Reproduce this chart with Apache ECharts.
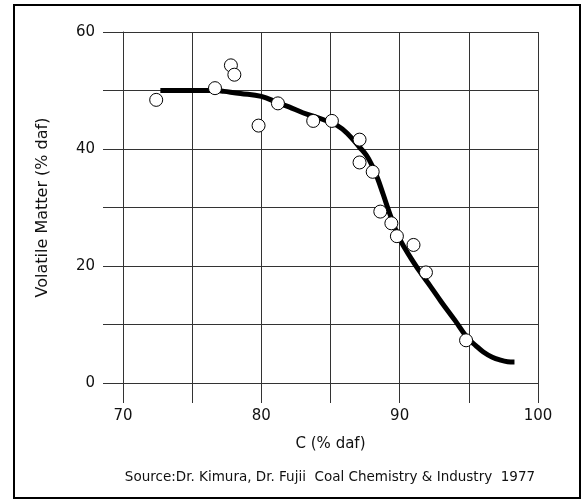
<!DOCTYPE html>
<html>
<head>
<meta charset="utf-8">
<script src="https://cdn.jsdelivr.net/npm/echarts@6/dist/echarts.min.js"></script>
<style>
  html, body { margin: 0; padding: 0; background: #fff; }
  #chart { width: 586px; height: 502px; }
</style>
</head>
<body>
<div id="chart"></div>
<script>
// fitted curve, C (% daf) vs volatile matter (% daf)
const curveC = [72.7, 76.8, 77.3, 78.5, 80.0, 81.2, 82.0, 83.0, 84.5, 85.5, 86.2, 87.1, 87.6, 88.0, 88.4, 88.8, 89.2, 89.6, 90.0, 90.8, 91.5, 92.2, 93.0, 94.0, 94.85, 95.5, 96.05, 96.7, 97.3, 97.8, 98.3];
const curveVM = [50.0, 50.0, 49.85, 49.5, 49.0, 47.9, 47.2, 46.2, 45.0, 44.0, 42.7, 40.3, 38.9, 37.2, 35.0, 32.3, 29.5, 26.9, 24.6, 21.4, 18.9, 16.6, 13.9, 10.7, 7.85, 6.4, 5.3, 4.4, 3.9, 3.65, 3.6];

// measured samples
const sampleC = [72.4, 76.65, 77.8, 78.05, 79.8, 81.2, 83.75, 85.1, 87.1, 87.1, 88.05, 88.6, 89.4, 89.8, 91.0, 91.9, 94.8];
const sampleVM = [48.4, 50.4, 54.3, 52.7, 44.0, 47.8, 44.8, 44.8, 41.6, 37.7, 36.1, 29.3, 27.3, 25.1, 23.6, 18.9, 7.3];

const xTickLabels = [70, 80, 90, 100];
const yTickLabels = [0, 20, 40, 60];

const FONT = "DejaVu Sans";
const lineCol = "#333";

const chart = echarts.init(document.getElementById("chart"));

const option = {
  backgroundColor: "#fff",
  animation: false,
  textStyle: { fontFamily: FONT },
  grid: { left: 123, right: 48, top: 32, bottom: 119 },
  xAxis: {
    type: "value",
    min: 70,
    max: 100,
    interval: 5,
    name: "C (% daf)",
    nameLocation: "middle",
    nameGap: 54,
    nameTextStyle: { color: "#111", fontSize: 15, fontFamily: FONT },
    axisLine: { show: true, onZero: false, lineStyle: { color: lineCol, width: 1 } },
    axisTick: { show: true, inside: false, length: 20, lineStyle: { color: lineCol, width: 1 } },
    axisLabel: {
      color: "#111",
      fontSize: 15,
      margin: 26,
      formatter: (v) => (xTickLabels.includes(v) ? String(v) : "")
    },
    splitLine: { show: true, lineStyle: { color: lineCol, width: 1 } }
  },
  yAxis: {
    type: "value",
    min: 0,
    max: 60,
    interval: 10,
    name: "Volatile Matter (% daf)",
    nameLocation: "middle",
    nameGap: 72,
    nameTextStyle: { color: "#111", fontSize: 16, fontFamily: FONT },
    axisLine: { show: true, lineStyle: { color: lineCol, width: 1 } },
    axisTick: { show: true, inside: false, length: 20, lineStyle: { color: lineCol, width: 1 } },
    axisLabel: {
      color: "#111",
      fontSize: 15,
      margin: 28,
      formatter: (v) => (yTickLabels.includes(v) ? String(v) : "")
    },
    splitLine: { show: true, lineStyle: { color: lineCol, width: 1 } }
  },
  series: [
    {
      type: "line",
      data: curveC.map((c, i) => [c, curveVM[i]]),
      showSymbol: false,
      smooth: 0.4,
      lineStyle: { color: "#000", width: 5, cap: "butt" },
      z: 2
    },
    {
      type: "scatter",
      data: sampleC.map((c, i) => [c, sampleVM[i]]),
      symbol: "circle",
      symbolSize: 13,
      itemStyle: { color: "#fff", opacity: 1, borderColor: "#000", borderWidth: 1 },
      z: 3
    }
  ],
  graphic: [
    {
      type: "rect",
      shape: { x: 14, y: 5, width: 566, height: 493 },
      style: { fill: null, stroke: "#000", lineWidth: 2 },
      silent: true
    },
    {
      type: "text",
      x: 330,
      y: 477,
      style: {
        text: "Source:Dr. Kimura, Dr. Fujii  Coal Chemistry & Industry  1977",
        font: "13.5px " + FONT,
        fill: "#111",
        align: "center",
        verticalAlign: "middle"
      }
    }
  ]
};

chart.setOption(option);
window.addEventListener("resize", () => chart.resize());
</script>
</body>
</html>
